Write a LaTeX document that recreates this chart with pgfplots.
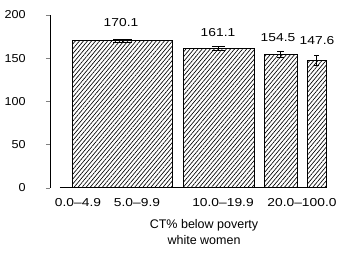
\documentclass[border=0pt]{standalone}
\usepackage{pgfplots}
\pgfplotsset{compat=1.18}
\usepackage{fontspec}
\setmainfont{Liberation Sans}
\usetikzlibrary{patterns.meta}
\begin{document}
\begin{tikzpicture}
\path[use as bounding box] (-50pt,-73.3pt) rectangle (295pt,187.7pt);
\begin{axis}[
  at={(0,0)}, anchor=south west,
  scale only axis, width=280pt, height=172.7pt,
  xmin=50, xmax=330, ymin=0, ymax=200,
  axis y line*=left, axis x line*=bottom,
  x axis line style={draw=none},
  axis line style={-, line width=0.7pt},
  ytick={0,50,100,150,200},
  tick align=outside, major tick length=4pt,
  major x tick style={draw=none},
  xtick={78,137,223,302},
  xticklabels={0.0--4.9,5.0--9.9,10.0--19.9,20.0--100.0},
  xticklabel style={font=\fontsize{11.5}{13}\selectfont, xscale=1.2, anchor=north, yshift=-3pt},
  yticklabel style={font=\fontsize{11.5}{13}\selectfont, xscale=1.1, anchor=east, xshift=-15pt},
  /pgf/number format/assume math mode=true,
  xlabel={CT\% below poverty\\white women},
  xlabel style={at={(rel axis cs:0.55,0)}, anchor=north, yshift=-28pt, align=center, font=\fontsize{12.5}{16}\selectfont},
  clip=false,
]
\pgfplotsset{hb/.style={ybar, bar shift=0pt, draw=black, line width=1pt,
  pattern={Lines[angle=50,distance=3.1pt,line width=0.65pt]},
  error bars/y dir=both, error bars/y explicit, error bars/error bar style={line width=0.7pt, black}}}
\addplot[hb, bar width=99, error bars/error mark options={rotate=90,mark size=9pt,line width=0.7pt}] coordinates {(122.5,170.1) +- (0,1.5)};
\addplot[hb, bar width=71, error bars/error mark options={rotate=90,mark size=6.5pt,line width=0.7pt}] coordinates {(218.5,161.1) +- (0,2.5)};
\addplot[hb, bar width=33, error bars/error mark options={rotate=90,mark size=3.5pt,line width=0.7pt}] coordinates {(280.5,154.5) +- (0,3.5)};
\addplot[hb, bar width=19, error bars/error mark options={rotate=90,mark size=2.5pt,line width=0.7pt}] coordinates {(316.5,147.6) +- (0,6)};
\draw[line width=1pt] (axis cs:60,0) -- (axis cs:327,0);
\tikzset{vl/.style={font=\fontsize{11.5}{13}\selectfont, xscale=1.2}}
\node[vl] at (axis cs:121,191.0) {170.1};
\node[vl] at (axis cs:218,179.5) {161.1};
\node[vl] at (axis cs:278,173.5) {154.5};
\node[vl] at (axis cs:317,170.0) {147.6};
\end{axis}
\end{tikzpicture}
\end{document}
